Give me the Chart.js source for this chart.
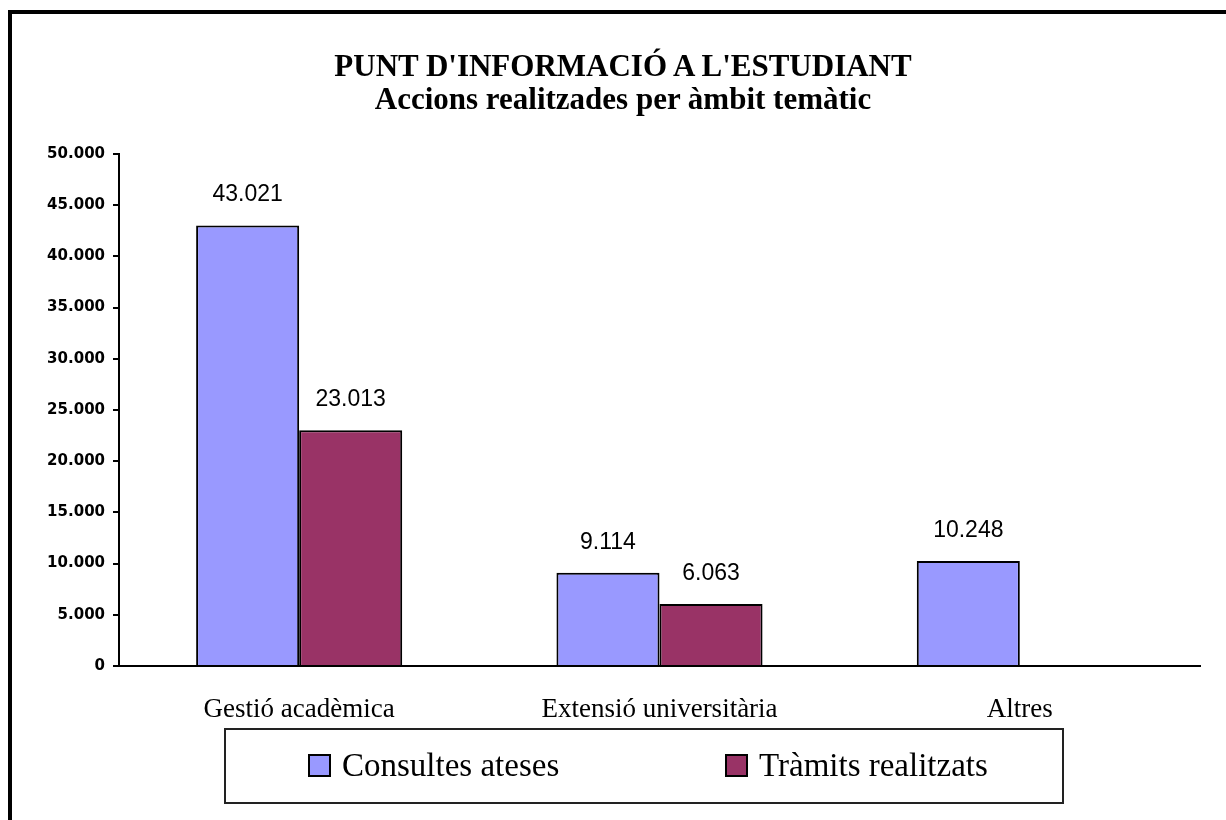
<!DOCTYPE html>
<html>
<head>
<meta charset="utf-8">
<title>Punt d'informació a l'estudiant</title>
<script src="https://cdn.jsdelivr.net/npm/chart.js"></script>
<style>
    body { margin: 0; width: 1226px; height: 820px; overflow: hidden; background: #fff; position: relative; }
    .frame { position: absolute; left: 8px; top: 10px; width: 1400px; height: 1000px;
             border-left: 4px solid #000; border-top: 4px solid #000; }
    #chart { position: absolute; left: 0; top: 0; }
    .title { position: absolute; left: 623px; transform: translateX(-50%); white-space: nowrap;
             font-family: "Liberation Serif", serif; font-weight: bold; font-size: 31px; line-height: 33px; color: #000; }
    .legend { position: absolute; left: 224px; top: 728px; width: 836px; height: 72px; border: 2px solid #222; }
    .item { position: absolute; top: 0; height: 72px; font-family: "Liberation Serif", serif; font-size: 33px; color: #000; }
    .swatch { position: absolute; top: 24px; width: 19px; height: 19px; border: 2px solid #000; }
    .label { position: absolute; top: 17px; white-space: nowrap; line-height: 36px; }
</style>
</head>
<body>
<div class="frame"></div>
<canvas id="chart" width="1226" height="820"></canvas>
<div class="title" style="top:49px">PUNT D'INFORMACIÓ A L'ESTUDIANT</div>
<div class="title" style="top:82px">Accions realitzades per àmbit temàtic</div>
<div class="legend" id="legend"></div>

<script>
    // Chart data
    const categories = ['Gestió acadèmica', 'Extensió universitària', 'Altres'];
    const seriesNames = ['Consultes ateses', 'Tràmits realitzats'];
    const consultes = [43021, 9114, 10248];
    const tramits = [23013, 6063, null];
    const seriesColors = ['#9999FF', '#993366'];
    const yTicks = [0, 5000, 10000, 15000, 20000, 25000, 30000, 35000, 40000, 45000, 50000];

    // 43021 -> "43.021"
    function fmt(v) {
        return String(v).replace(/\B(?=(\d{3})+(?!\d))/g, '.');
    }

    // Legend built from the same series names / colours
    const legendEl = document.getElementById('legend');
    const legendX = [82, 499];
    seriesNames.forEach(function (name, i) {
        const item = document.createElement('div');
        item.className = 'item';
        item.style.left = legendX[i] + 'px';
        item.innerHTML = '<div class="swatch" style="left:0;background:' + seriesColors[i] + '"></div>' +
                         '<div class="label" style="left:34px">' + name + '</div>';
        legendEl.appendChild(item);
    });

    // Value labels above each bar
    const valueLabels = {
        id: 'valueLabels',
        afterDatasetsDraw(chart) {
            const ctx = chart.ctx;
            ctx.save();
            ctx.font = '23px "Liberation Sans", Arial, sans-serif';
            ctx.fillStyle = '#000';
            ctx.textAlign = 'center';
            ctx.textBaseline = 'alphabetic';
            chart.data.datasets.forEach(function (ds, i) {
                chart.getDatasetMeta(i).data.forEach(function (bar, j) {
                    const v = ds.data[j];
                    if (v === null || v === undefined) return;
                    ctx.fillText(fmt(v), bar.x, bar.y - 24);
                });
            });
            ctx.restore();
        }
    };

    new Chart(document.getElementById('chart'), {
        type: 'bar',
        data: {
            labels: categories,
            datasets: [
                { label: seriesNames[0], data: consultes, backgroundColor: seriesColors[0],
                  borderColor: '#000', borderWidth: 2 },
                { label: seriesNames[1], data: tramits, backgroundColor: seriesColors[1],
                  borderColor: '#000', borderWidth: 2 }
            ]
        },
        options: {
            responsive: false,
            animation: false,
            layout: { padding: { top: 154, left: 0, right: 26, bottom: 94 } },
            datasets: { bar: { categoryPercentage: 0.572, barPercentage: 1 } },
            plugins: {
                legend: { display: false },
                title: { display: false },
                tooltip: { enabled: false }
            },
            scales: {
                x: {
                    grid: { display: false },
                    border: { display: true, color: '#000', width: 2 },
                    ticks: {
                        color: '#000',
                        padding: 20,
                        maxRotation: 0,
                        font: { family: '"Liberation Serif", serif', size: 27 }
                    },
                    afterFit(scale) { scale.height = 60; }
                },
                y: {
                    min: 0,
                    max: 50000,
                    afterBuildTicks(scale) { scale.ticks = yTicks.map(v => ({ value: v })); },
                    grid: { drawOnChartArea: false, drawTicks: true, tickLength: 6, color: '#000', lineWidth: 2 },
                    border: { display: true, color: '#000', width: 2 },
                    ticks: {
                        color: '#000',
                        padding: 8,
                        font: { family: '"DejaVu Sans", sans-serif', size: 15, weight: 'bold' },
                        callback: v => fmt(v)
                    },
                    afterFit(scale) { scale.width = 119; }
                }
            }
        },
        plugins: [valueLabels]
    });
</script>
</body>
</html>
